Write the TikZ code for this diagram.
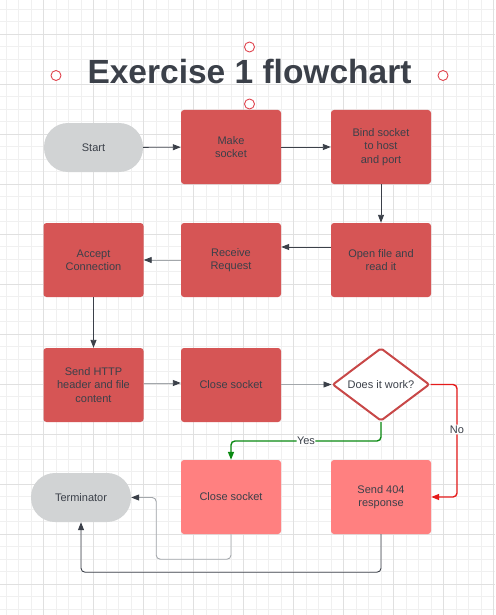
\documentclass[tikz,border=0pt]{standalone}
\usepackage{fontspec}
\setmainfont{Liberation Sans}
\usetikzlibrary{shapes.geometric,arrows.meta}

\definecolor{inkgray}{HTML}{3B4049}
\definecolor{boxred}{HTML}{D65555}
\definecolor{boxpink}{HTML}{FF8080}
\definecolor{capgray}{HTML}{D1D3D4}
\definecolor{linegray}{HTML}{A3A7AB}
\definecolor{gridminor}{HTML}{F0F0F0}
\definecolor{gridmajor}{HTML}{E0E0E0}
\definecolor{edgered}{HTML}{C84848}
\definecolor{yesgreen}{HTML}{0A8A12}
\definecolor{nored}{HTML}{E51B1B}
\definecolor{handlered}{HTML}{E0454F}

\begin{document}
\begin{tikzpicture}[x=1pt, y=-1pt,
  every node/.style={font=\fontsize{11}{13.3}\selectfont, text=inkgray},
  procbox/.style={rectangle, rounded corners=3pt, fill=boxred, minimum width=100pt, minimum height=74pt, align=center, inner sep=0pt},
  endbox/.style={procbox, fill=boxpink},
  capsule/.style={rectangle, rounded corners=24pt, fill=capgray, minimum height=49pt, align=center, inner sep=0pt},
  flow/.style={line width=0.9pt, draw=inkgray, -{Triangle[length=8pt,width=6pt]}},
  softflow/.style={line width=0.9pt, draw=linegray, -{Triangle[length=8pt,width=6pt,color=inkgray]}}]
\useasboundingbox (0,0) rectangle (495,615);
\fill [white] (0,0) rectangle (495,615);

% grid
\foreach \gx in {6,18.5,...,495} \draw [gridminor, line width=1pt] (\gx,0) -- (\gx,615);
\foreach \gy in {9.3,21.8,...,615} \draw [gridminor, line width=1pt] (0,\gy) -- (495,\gy);
\foreach \gx in {-6.3,43.7,...,495} \draw [gridmajor, line width=1.4pt] (\gx,0) -- (\gx,615);
\foreach \gy in {34.3,84.3,...,615} \draw [gridmajor, line width=1.4pt] (0,\gy) -- (495,\gy);

% title and its handles
\node [font=\fontsize{33.5}{38}\selectfont\bfseries, text=inkgray] (title) at (249.5,72) {Exercise 1 flowchart};
\foreach \hx/\hy in {249.5/47, 56/75.5, 443/75.5, 249.5/104}
  \draw [handlered, fill=white, line width=0.9pt] (\hx,\hy) circle (5pt);

% row 1
\node [capsule, minimum width=99pt] (start) at (93.5,147.5) {Start};
\node [procbox] (make) at (231,147) {Make\\socket};
\node [procbox] (bind) at (381,147) {Bind socket\\to host\\and port};

% row 2
\node [procbox] (openfile) at (381,260) {Open file and\\read it};
\node [procbox] (receive) at (231,260) {Receive\\Request};
\node [procbox] (accept) at (93.5,260) {Accept\\Connection};

% row 3
\node [procbox] (sendhttp) at (93.5,385) {Send HTTP\\header and file\\content};
\node [procbox] (closeA) at (231,385) {Close socket};
\node [diamond, draw=edgered, line width=2pt, fill=white, rounded corners=2pt, aspect=1.33,
  minimum width=97pt, minimum height=73pt, inner sep=0pt] (decision) at (381,384.5) {Does it work?};

% row 4
\node [endbox] (closeB) at (231,497) {Close socket};
\node [endbox] (send404) at (381,497) {Send 404\\response};
\node [capsule, minimum width=100pt] (term) at (81,497.5) {Terminator};

% connectors
\draw [flow] (start) -- (make);
\draw [flow] (make) -- (bind);
\draw [flow] (bind) -- (openfile);
\draw [flow] ([yshift=13pt]openfile.west) -- ([yshift=13pt]receive.east);
\draw [softflow] (receive) -- (accept);
\draw [flow] (accept) -- (sendhttp);
\draw [softflow] ([yshift=2pt]sendhttp.east) -- ([yshift=2pt]closeA.west);
\draw [softflow] (closeA.east |- decision.west) -- (decision.west);

\draw [line width=1.4pt, nored, rounded corners=4pt, -{Triangle[length=8pt,width=6pt]}]
  (decision.east) -- ++(26.5,0) |- (send404.east)
  node [pos=0.2, fill=white, inner sep=1pt] {No};
\draw [line width=1.4pt, yesgreen, rounded corners=4pt, -{Triangle[length=8pt,width=6pt]}]
  (decision.south) -- ++(0,19) -| (closeB.north)
  node [pos=0.25, fill=white, inner sep=0.5pt] {Yes};

\draw [softflow, rounded corners=4pt] (closeB.south) -- ++(0,25) -| ([xshift=25pt]term.east) -- (term.east);
\draw [flow, rounded corners=4pt] (send404.south) -- ++(0,38) -| (term.south);
\end{tikzpicture}
\end{document}
